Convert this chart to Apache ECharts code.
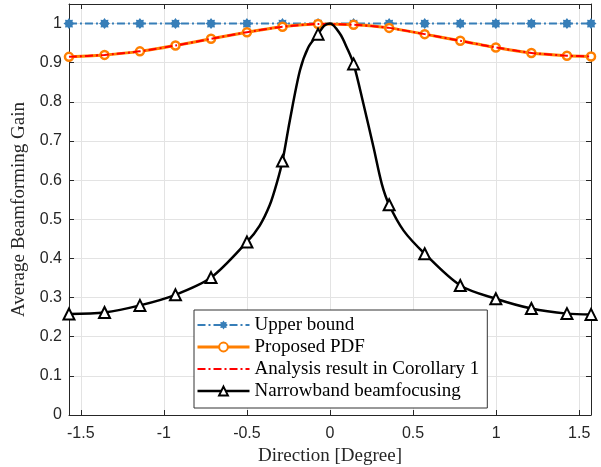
<!DOCTYPE html>
<html><head><meta charset="utf-8">
<script src="https://cdn.jsdelivr.net/npm/echarts@6/dist/echarts.min.js"></script>
<style>html,body{margin:0;padding:0;background:#fff}#c{width:601px;height:467px}</style>
</head><body><div id="c"></div>
<script>
// ---- data ----
const direction = [-1.571, -1.357, -1.144, -0.930, -0.716, -0.500, -0.286, -0.072, 0.142, 0.356, 0.570, 0.784, 0.998, 1.212, 1.426, 1.571];
const upperBound = [1, 1, 1, 1, 1, 1, 1, 1, 1, 1, 1, 1, 1, 1, 1, 1];
const proposedPDF = [0.915, 0.920, 0.929, 0.944, 0.961, 0.978, 0.992, 0.999, 0.997, 0.989, 0.973, 0.956, 0.939, 0.925, 0.918, 0.916];
const analysisCorollary1 = [0.915, 0.920, 0.929, 0.944, 0.961, 0.978, 0.992, 0.999, 0.997, 0.989, 0.973, 0.956, 0.939, 0.925, 0.918, 0.916];
const narrowband = [0.258, 0.262, 0.280, 0.307, 0.351, 0.442, 0.649, 0.973, 0.897, 0.537, 0.412, 0.331, 0.297, 0.272, 0.259, 0.257];
// extra points (no markers there)
const narrowbandCurveX = [-0.423, -0.362, -0.322, -0.242, -0.181, -0.131, -0.036, 0.000, 0.060, 0.101, 0.201, 0.262, 0.312, 0.443];
const narrowbandCurveY = [0.484, 0.537, 0.590, 0.752, 0.880, 0.939, 0.994, 1.000, 0.974, 0.939, 0.795, 0.684, 0.590, 0.471];
const xTicks = [-1.5, -1, -0.5, 0, 0.5, 1, 1.5];
const yTicks = [0, 0.1, 0.2, 0.3, 0.4, 0.5, 0.6, 0.7, 0.8, 0.9, 1];
const xMin = -1.5708, xMax = 1.5708, yMin = 0, yMax = 1.05;

const pairs = (xs, ys) => xs.map((x, i) => [x, ys[i]]);
const nbData = direction.map((x, i) => ({ value: [x, narrowband[i]] }))
  .concat(narrowbandCurveX.map((x, i) => ({ value: [x, narrowbandCurveY[i]], symbol: 'none' })))
  .sort((a, b) => a.value[0] - b.value[0]);

const axisColor = '#262626';
const gridColor = '#e3e3e3';
const starPath = 'path://M20 10L16.47 12.68L17.07 17.07L12.68 16.47L10 20L7.32 16.47L2.93 17.07L3.53 12.68L0 10L3.53 7.32L2.93 2.93L7.32 3.53L10 0L12.68 3.53L17.07 2.93L16.47 7.32Z';
const dashDot = [8, 3, 2, 3];

const baseX = {
  type: 'value', min: xMin, max: xMax,
  axisLine: { show: true, onZero: false, lineStyle: { color: axisColor, width: 1 } },
  axisTick: { show: true, inside: true, length: 5, customValues: xTicks, lineStyle: { color: axisColor } },
  minorTick: { show: false }
};
const baseY = {
  type: 'value', min: yMin, max: yMax,
  axisLine: { show: true, onZero: false, lineStyle: { color: axisColor, width: 1 } },
  axisTick: { show: true, inside: true, length: 5, customValues: yTicks, lineStyle: { color: axisColor } },
  minorTick: { show: false }
};

const option = {
  animation: false,
  backgroundColor: '#fff',
  grid: { left: 69, right: 10, top: 4, bottom: 52, containLabel: false, outerBoundsMode: 'none' },
  xAxis: [
    Object.assign({}, baseX, {
      position: 'bottom',
      name: 'Direction [Degree]', nameLocation: 'middle', nameGap: 32,
      nameTextStyle: { fontFamily: 'Liberation Serif', fontSize: 19, color: axisColor },
      axisLabel: { show: true, customValues: xTicks, margin: 11, fontFamily: 'Liberation Sans', fontSize: 16, color: axisColor },
      splitLine: { show: true, lineStyle: { color: gridColor, width: 1 } }
    }),
    Object.assign({}, baseX, {
      position: 'top',
      axisLabel: { show: false },
      splitLine: { show: false }
    })
  ],
  yAxis: [
    Object.assign({}, baseY, {
      position: 'left',
      name: 'Average Beamforming Gain', nameLocation: 'middle', nameGap: 34,
      nameTextStyle: { fontFamily: 'Liberation Serif', fontSize: 19, color: axisColor },
      axisLabel: { show: true, customValues: yTicks, margin: 7, fontFamily: 'Liberation Sans', fontSize: 16, color: axisColor },
      splitLine: { show: true, lineStyle: { color: gridColor, width: 1 } }
    }),
    Object.assign({}, baseY, {
      position: 'right',
      axisLabel: { show: false },
      splitLine: { show: false }
    })
  ],
  legend: {
    orient: 'vertical', left: 194, top: 310,
    padding: [4, 8, 6, 2],
    itemWidth: 52, itemHeight: 11, itemGap: 0,
    backgroundColor: '#fff', borderColor: '#333', borderWidth: 1, borderRadius: 0,
    textStyle: { fontFamily: 'Liberation Serif', fontSize: 19, color: '#000', lineHeight: 22 },
    data: [
      { name: 'Upper bound', lineStyle: { width: 2 } },
      { name: 'Proposed PDF', lineStyle: { width: 3 } },
      { name: 'Analysis result in Corollary 1', lineStyle: { width: 2 }, itemStyle: { opacity: 0 } },
      { name: 'Narrowband beamfocusing', lineStyle: { width: 2.5 } }
    ]
  },
  series: [
    {
      name: 'Upper bound', type: 'line', xAxisIndex: 0, yAxisIndex: 0,
      data: pairs(direction, upperBound),
      symbol: starPath, symbolSize: 11,
      lineStyle: { color: '#377eb8', width: 2, type: dashDot },
      itemStyle: { color: '#377eb8' },
      z: 2
    },
    {
      name: 'Proposed PDF', type: 'line', xAxisIndex: 0, yAxisIndex: 0,
      data: pairs(direction, proposedPDF),
      symbol: 'circle', symbolSize: 8, smooth: 0.2,
      lineStyle: { color: '#ff7f00', width: 3 },
      itemStyle: { color: '#fff', borderColor: '#ff7f00', borderWidth: 2.5 },
      z: 3
    },
    {
      name: 'Analysis result in Corollary 1', type: 'line', xAxisIndex: 0, yAxisIndex: 0,
      data: pairs(direction, analysisCorollary1),
      symbol: 'none', smooth: 0.2,
      lineStyle: { color: '#ff0000', width: 2, type: dashDot },
      itemStyle: { color: '#ff0000' },
      z: 4
    },
    {
      name: 'Narrowband beamfocusing', type: 'line', xAxisIndex: 0, yAxisIndex: 0,
      data: nbData,
      symbol: 'triangle', symbolSize: 11, smooth: 0.3,
      lineStyle: { color: '#000', width: 2.5 },
      itemStyle: { color: '#fff', borderColor: '#000', borderWidth: 2 },
      z: 5
    }
  ]
};
const chart = echarts.init(document.getElementById('c'), null, { renderer: 'canvas' });
chart.setOption(option);
</script>
</body></html>
